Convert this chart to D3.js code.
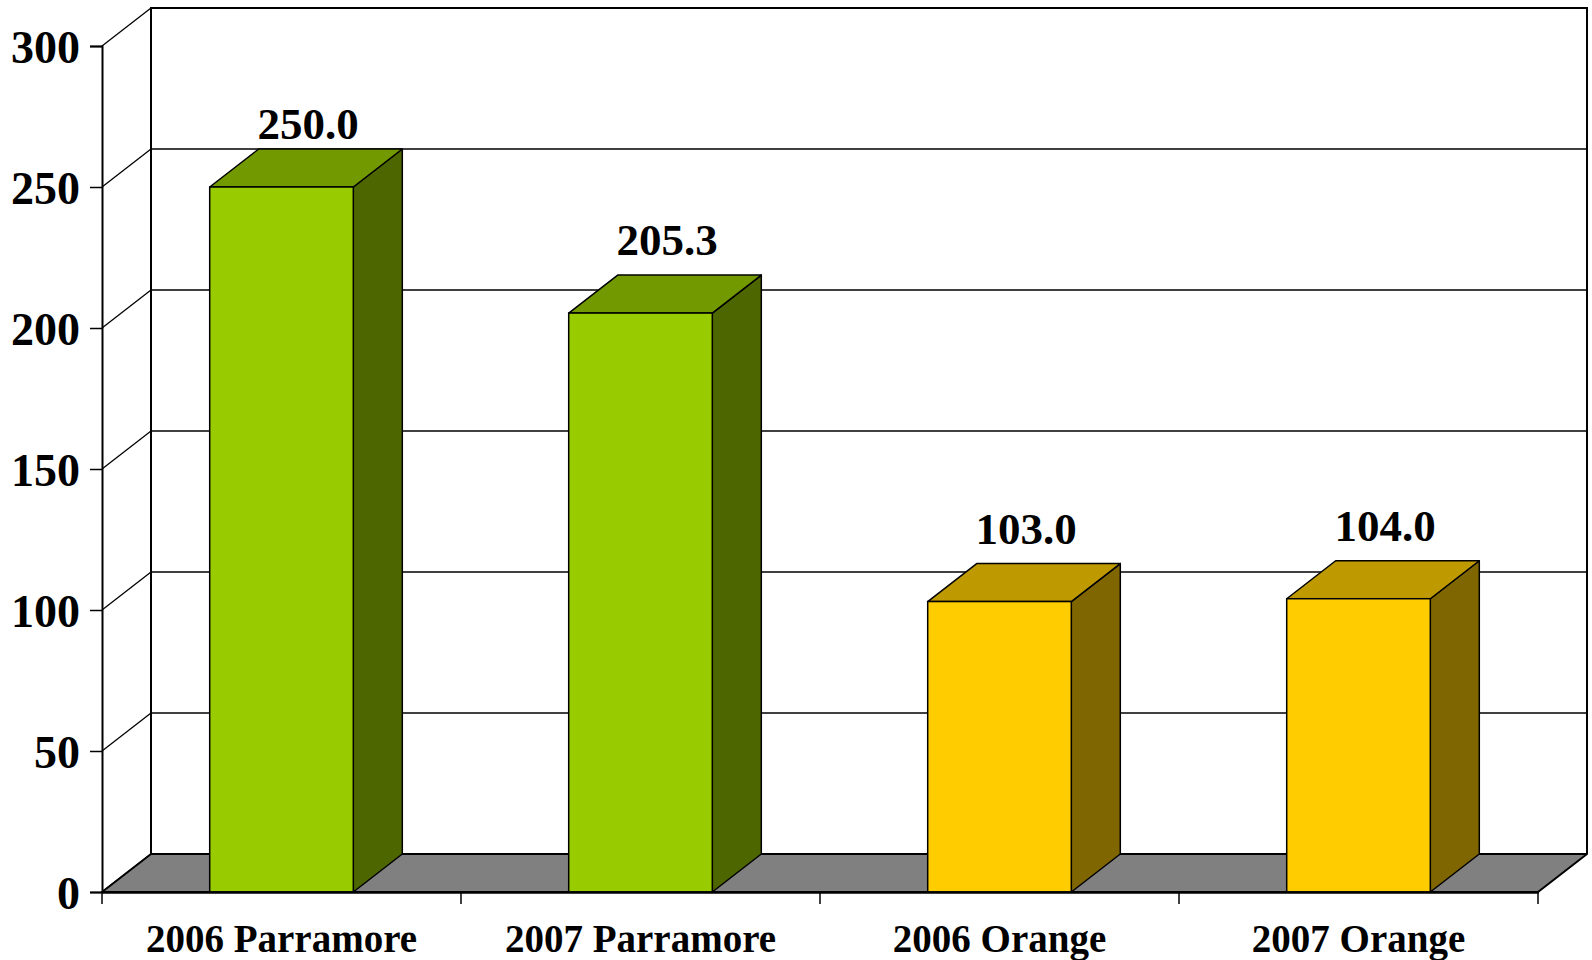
<!DOCTYPE html>
<html>
<head>
<meta charset="utf-8">
<script src="https://cdn.jsdelivr.net/npm/d3@7"></script>
<style>
  body { margin: 0; background: #fff; }
  text { font-family: "Liberation Serif", "Times New Roman", serif; font-weight: bold; fill: #000; }
</style>
</head>
<body>
<svg width="1592" height="960"></svg>
<script>
var categories = ["2006 Parramore", "2007 Parramore", "2006 Orange", "2007 Orange"];
var values = [250.0, 205.3, 103.0, 104.0];
var frontColors = ["#99cc00", "#99cc00", "#ffcc00", "#ffcc00"];
var topColors = ["#739900", "#739900", "#bf9900", "#bf9900"];
var sideColors = ["#4d6600", "#4d6600", "#806600", "#806600"];
var yTicks = [0, 50, 100, 150, 200, 250, 300];

var svg = d3.select("svg");

// depth offset for the 3d look
var dx = 49, dy = -38;

var x = d3.scaleBand()
    .domain(categories)
    .range([102, 1538])
    .paddingInner(0.6)
    .paddingOuter(0.3);

var y = d3.scaleLinear()
    .domain([0, 300])
    .range([892, 46]);

var x0 = 102, x1 = 1538;

// back wall gridlines
svg.append("g")
    .selectAll("line")
    .data(yTicks.slice(1, -1))
    .enter().append("line")
    .attr("x1", x0 + dx).attr("x2", x1 + dx)
    .attr("y1", function(d) { return y(d) + dy; })
    .attr("y2", function(d) { return y(d) + dy; })
    .attr("stroke", "#000")
    .attr("stroke-width", 1.3);

// side wall diagonals
svg.append("g")
    .selectAll("line")
    .data(yTicks)
    .enter().append("line")
    .attr("x1", x0).attr("x2", x0 + dx)
    .attr("y1", function(d) { return y(d); })
    .attr("y2", function(d) { return y(d) + dy; })
    .attr("stroke", "#000")
    .attr("stroke-width", 1.3);

// back wall frame
svg.append("path")
    .attr("d", "M" + (x0 + dx) + "," + (y(0) + dy) +
               "V" + (y(300) + dy) +
               "H" + (x1 + dx) +
               "V" + (y(0) + dy))
    .attr("fill", "none")
    .attr("stroke", "#000")
    .attr("stroke-width", 2);

// floor
svg.append("path")
    .attr("d", "M" + x0 + "," + y(0) +
               "L" + x1 + "," + y(0) +
               "L" + (x1 + dx) + "," + (y(0) + dy) +
               "L" + (x0 + dx) + "," + (y(0) + dy) + "Z")
    .attr("fill", "#808080")
    .attr("stroke", "#000")
    .attr("stroke-width", 2)
    .attr("stroke-linejoin", "round");

// bars
var bars = svg.append("g")
    .selectAll("g")
    .data(values)
    .enter().append("g");

bars.append("path")
    .attr("d", function(d, i) {
      var r = x(categories[i]) + x.bandwidth();
      return "M" + r + "," + y(0) + "L" + r + "," + y(d) +
             "L" + (r + dx) + "," + (y(d) + dy) + "L" + (r + dx) + "," + (y(0) + dy) + "Z";
    })
    .attr("fill", function(d, i) { return sideColors[i]; })
    .attr("stroke", "#000").attr("stroke-width", 1.5).attr("stroke-linejoin", "round");

bars.append("path")
    .attr("d", function(d, i) {
      var l = x(categories[i]), r = l + x.bandwidth();
      return "M" + l + "," + y(d) + "L" + (l + dx) + "," + (y(d) + dy) +
             "L" + (r + dx) + "," + (y(d) + dy) + "L" + r + "," + y(d) + "Z";
    })
    .attr("fill", function(d, i) { return topColors[i]; })
    .attr("stroke", "#000").attr("stroke-width", 1.5).attr("stroke-linejoin", "round");

bars.append("rect")
    .attr("x", function(d, i) { return x(categories[i]); })
    .attr("y", function(d) { return y(d); })
    .attr("width", x.bandwidth())
    .attr("height", function(d) { return y(0) - y(d); })
    .attr("fill", function(d, i) { return frontColors[i]; })
    .attr("stroke", "#000").attr("stroke-width", 1.5);

// value labels
bars.append("text")
    .attr("x", function(d, i) { return x(categories[i]) + x.bandwidth() / 2 + dx / 2 + 2; })
    .attr("y", function(d) { return Math.max(y(d) + dy - 20, 139); })
    .attr("text-anchor", "middle")
    .style("font-size", "45px")
    .text(function(d) { return d.toFixed(1); });

// y axis
var yAxis = svg.append("g")
    .attr("transform", "translate(" + x0 + ",0)")
    .call(d3.axisLeft(y).tickValues(yTicks).tickSize(12).tickPadding(10).tickFormat(d3.format("d")));
yAxis.select(".domain").attr("stroke-width", 2);
yAxis.selectAll(".tick line").attr("stroke-width", 1.5);
yAxis.selectAll("text").style("font-size", "46px").attr("dy", "0.35em")
    .attr("font-family", null).attr("font-size", null);

// x axis
var xAxis = svg.append("g")
    .attr("transform", "translate(0," + y(0) + ")")
    .call(d3.axisBottom(x).tickSize(0).tickPadding(32));
xAxis.select(".domain").attr("stroke-width", 2.5);
xAxis.selectAll("text").style("font-size", "39px")
    .attr("font-family", null).attr("font-size", null);

// tick marks between categories
var step = x.step();
svg.append("g")
    .selectAll("line")
    .data(d3.range(categories.length + 1))
    .enter().append("line")
    .attr("x1", function(i) { return x0 + i * step; })
    .attr("x2", function(i) { return x0 + i * step; })
    .attr("y1", y(0))
    .attr("y2", y(0) + 12)
    .attr("stroke", "#000")
    .attr("stroke-width", 1.5);
</script>
</body>
</html>
